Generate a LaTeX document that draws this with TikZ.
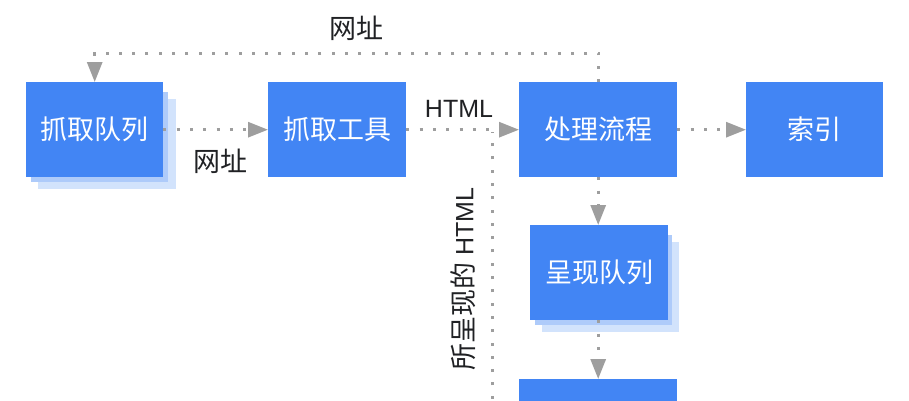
\documentclass[tikz,border=0pt]{standalone}
\usepackage{fontspec}
\setmainfont{Liberation Sans}
\newfontfamily\cjk{Noto Sans CJK SC}
\usetikzlibrary{arrows.meta}
\definecolor{gblue}{HTML}{4285F4}
\definecolor{shadeA}{HTML}{AECBFA}
\definecolor{shadeB}{HTML}{D2E3FC}
\definecolor{lgray}{HTML}{9E9E9E}
\definecolor{ink}{HTML}{202124}
\tikzset{
  box/.style={fill=gblue, draw=none, text=white, inner sep=0pt, anchor=north west,
    font=\fontsize{27}{32}\selectfont\cjk},
  conn/.style={draw=lgray, line width=3pt, dash pattern=on 3pt off 10.3pt,
    -{Triangle[length=20pt,width=15pt,fill=lgray]}},
  plainconn/.style={draw=lgray, line width=3pt, dash pattern=on 3pt off 10.3pt},
  lbl/.style={text=ink, inner sep=0pt, font=\fontsize{25}{30}\selectfont},
  cjklbl/.style={text=ink, inner sep=0pt, font=\fontsize{27}{32}\selectfont\cjk}
}
\begin{document}
\begin{tikzpicture}[x=1pt,y=-1pt]
\useasboundingbox (0,0) rectangle (909,400);
\clip (0,0) rectangle (909,400);
% shadows
\fill[shadeB] (38,99) rectangle (176,189);
\fill[shadeA] (31,92) rectangle (168,182);
\fill[shadeB] (542,242) rectangle (679,332);
\fill[shadeA] (535,235) rectangle (672,325);
% boxes
\node[box, minimum width=137pt, minimum height=95pt] (q) at (26,82) {抓取队列};
\node[box, minimum width=138pt, minimum height=95pt] (f) at (268,82) {抓取工具};
\node[box, minimum width=158pt, minimum height=95pt] (p) at (519,82) {处理流程};
\node[box, minimum width=137pt, minimum height=95pt] (idx) at (746,82) {索引};
\node[box, minimum width=138pt, minimum height=95pt] (r) at (530,225) {呈现队列};
\node[box, minimum width=158pt, minimum height=60pt] (b) at (519,379) {};
% connectors
\draw[conn] (q.east) -- (f.west);
\draw[conn] (f.east) -- (p.west);
\draw[conn] (p.north) -- ++(0,-29) -| (q.north);
\draw[conn] (p.east) -- (idx.west);
\draw[conn] (p.south) -- (r.north -| p.south);
\draw[conn] (r.south -| b.north) -- (b.north);
\coordinate (vbot) at (492,412);
\coordinate (vtop) at (492,132);
\draw[plainconn] (vbot) -- (vtop);
% labels
\node[cjklbl] (l1) at (356,28) {网址};
\node[cjklbl] (l2) at (220,161) {网址};
\node[lbl] (l3) at (459,109) {HTML};
\node[lbl, rotate=90] (l4) at (463,279) {{\cjk\fontsize{27}{32}\selectfont 所呈现的} HTML};
\end{tikzpicture}
\end{document}
